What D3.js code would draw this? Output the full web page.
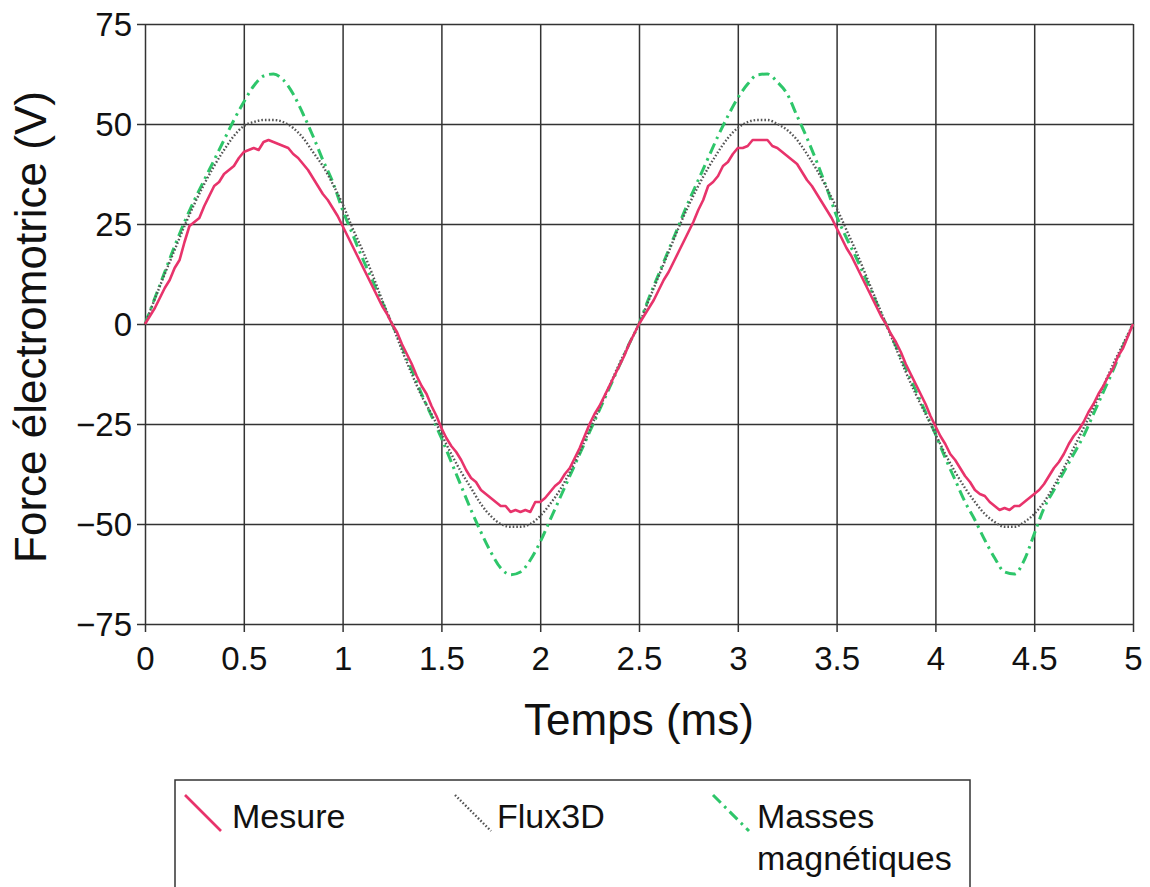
<!DOCTYPE html>
<html><head><meta charset="utf-8">
<script src="https://cdn.jsdelivr.net/npm/d3@7"></script>
<style>
body{margin:0;background:#fff}
svg{display:block}
text{font-family:"Liberation Sans",Arial,sans-serif;fill:#111}
</style>
</head><body>
<svg id="chart" width="1150" height="887"></svg>
<script>
// ---- DATA ----
const stepMesure = 0.025;   // ms between samples of the measured curve
const stepSim = 0.05;       // ms between samples of the simulated curves
const mesure = [
  0, 2, 4, 6.5, 9, 11, 14, 16, 20.5, 24.5, 25.5, 26.5, 29.5, 32, 34.5, 35.5, 37.5, 38.5, 39.5, 41.5, 43, 43.5, 44, 43.5, 45.5, 46,
  45.5, 45, 44.5, 44, 42.5, 41.5, 40, 38.5, 36.5, 34.5, 32.5, 31, 29, 27, 24.5, 22, 19.5, 17, 14.5, 12, 9.5, 7, 4.5, 2.5, 0,
  -2, -5, -7.5, -10, -13, -15.5, -17.5, -20.5, -23, -26, -28.5, -30.5, -32, -34, -36.5, -38.5, -39.5, -41.5, -42.5, -43.5,
  -44.5, -45.5, -45.5, -47, -46.5, -47, -46.5, -47, -44.5, -44.5, -43.5, -42, -40.5, -39.5, -37.5, -36, -33.5, -31, -28, -25,
  -22.5, -20.5, -18, -15.5, -13, -10.5, -8, -5, -2.5, 0,
  2, 4, 6, 8.5, 11, 13, 15.5, 18, 20.5, 23, 25.5, 28.5, 31, 34.5, 35.5, 37, 39.5, 40.5, 42.5, 44, 44, 44.5, 46, 46, 46,
  46, 44.5, 44, 43, 42, 41, 40, 38, 36, 34.5, 32.5, 30.5, 28.5, 26.5, 24, 21.5, 19, 17, 14.5, 12, 9.5, 7, 4.5, 2, 0,
  -2.5, -4.5, -7, -10, -12.5, -15, -17.5, -20, -23, -25.5, -28, -30, -32.5, -34, -36, -38, -39.5, -41.5, -42.5, -43,
  -44.5, -45.5, -46.5, -46, -46.5, -45.5, -45.5, -44.5, -43.5, -42.5, -41.5, -40, -38, -36, -34.5, -32.5, -30, -28, -26.5, -24.5,
  -22, -20, -17.5, -15.5, -13, -11, -8, -6, -3, 0
];
const flux3d = [
  0, 6.3, 12.5, 18.5, 24.5, 30, 35, 39.5, 43.5, 47, 49.5, 50.5, 51, 51, 50.5, 49, 46.5, 43, 39.5, 35, 30, 24, 18.5, 12.5, 6, 0,
  -6.5, -12.5, -18, -22.5, -27.5, -32.5, -37, -41, -45, -48, -50, -50.7, -50.7, -50, -48, -45, -41.5, -37, -32, -26.5, -21, -15.5, -10, -5, 0,
  6, 12, 18, 24, 29.5, 34.5, 39, 43, 46.5, 49, 50.5, 51, 51, 50, 48.5, 46, 42.5, 38.5, 34, 29, 23.5, 18, 12, 6, 0,
  -6, -12, -17.5, -22.5, -27.5, -32.5, -37, -41, -44.5, -47.5, -49.5, -50.7, -50.7, -49.5, -47.5, -44.5, -40.5, -36, -31, -26, -21, -15.5, -10, -5, 0
];
const masses = [
  0, 6.5, 13, 19.5, 25.5, 31, 36, 41, 46, 51, 55.5, 59.5, 62, 62.5, 61, 57.5, 52.5, 47, 41, 35.5, 28.5, 22.5, 16.5, 11, 5.5, 0,
  -5.5, -11.5, -17.5, -23, -28.5, -34.5, -40.5, -46.5, -52, -57, -61, -62.7, -62, -59, -54.5, -49, -43.5, -38, -32.5, -27, -21.5, -16, -10.5, -5, 0,
  6.5, 12.5, 18.5, 24.5, 30.5, 36, 41.5, 47, 52, 56.5, 60, 62.3, 62.5, 60.5, 57.5, 52, 46.5, 40.5, 34, 27, 21.5, 16.5, 11, 5.5, 0,
  -5.5, -11, -16.5, -22, -27.5, -33.5, -39, -44.5, -49, -54, -58.5, -62, -62.5, -59, -52.5, -46, -41.5, -37, -32.5, -28, -22.5, -17, -11.5, -5.5, 0
];
const xTicks = [0, 0.5, 1, 1.5, 2, 2.5, 3, 3.5, 4, 4.5, 5];
const yTicks = [-75, -50, -25, 0, 25, 50, 75];
const seriesNames = ["Mesure", "Flux3D", "Masses magnétiques"];
const xTitle = "Temps (ms)";
const yTitle = "Force électromotrice (V)";

// ---- CHART ----
const svg = d3.select("#chart");
const L = 145, R = 1133, T = 24, B = 624;
const x = d3.scaleLinear().domain([0, 5]).range([L, R]);
const y = d3.scaleLinear().domain([-75, 75]).range([B, T]);
const gridColor = "#333";

// grid
svg.append("g").attr("transform", `translate(0,${B})`)
  .call(d3.axisBottom(x).tickValues(xTicks).tickSize(-(B - T)).tickFormat(""))
  .call(g => g.select(".domain").remove())
  .call(g => g.selectAll("line").attr("stroke", gridColor).attr("stroke-width", 1.5));
svg.append("g").attr("transform", `translate(${L},0)`)
  .call(d3.axisLeft(y).tickValues(yTicks).tickSize(-(R - L)).tickFormat(""))
  .call(g => g.select(".domain").remove())
  .call(g => g.selectAll("line").attr("stroke", gridColor).attr("stroke-width", 1.5));

// axes with outward ticks and labels
svg.append("g").attr("transform", `translate(0,${B})`)
  .call(d3.axisBottom(x).tickValues(xTicks).tickSize(8).tickPadding(15).tickFormat(d3.format("")))
  .call(g => g.select(".domain").remove())
  .call(g => g.selectAll("line").attr("stroke", gridColor).attr("stroke-width", 1.5))
  .call(g => g.selectAll("text").attr("font-size", 33).attr("fill", "#111")
      .attr("font-family", "Liberation Sans, Arial, sans-serif"));
svg.append("g").attr("transform", `translate(${L},0)`)
  .call(d3.axisLeft(y).tickValues(yTicks).tickSize(8).tickPadding(5))
  .call(g => g.select(".domain").remove())
  .call(g => g.selectAll("line").attr("stroke", gridColor).attr("stroke-width", 1.5))
  .call(g => g.selectAll("text").attr("font-size", 33).attr("fill", "#111").attr("dy", "0.36em")
      .attr("font-family", "Liberation Sans, Arial, sans-serif"));

// titles
svg.append("text").attr("x", (L + R) / 2).attr("y", 735).attr("text-anchor", "middle")
  .attr("font-size", 44).text(xTitle);
svg.append("text").attr("transform", `translate(46,${(T + B) / 2 + 3}) rotate(-90)`)
  .attr("text-anchor", "middle").attr("font-size", 44).text(yTitle);

// series
const styles = [
  {color: "#e8336b", width: 2.6, dash: null},
  {color: "#555", width: 2.4, dash: "1.6,2"},
  {color: "#2ec66a", width: 3, dash: "11,5,2.5,5"}
];
const series = [
  {name: seriesNames[0], step: stepMesure, values: mesure, curve: d3.curveLinear, style: styles[0]},
  {name: seriesNames[1], step: stepSim, values: flux3d, curve: d3.curveMonotoneX, style: styles[1]},
  {name: seriesNames[2], step: stepSim, values: masses, curve: d3.curveMonotoneX, style: styles[2]}
];
const drawOrder = [2, 1, 0];
drawOrder.forEach(i => {
  const s = series[i];
  const pts = s.values.map((v, k) => [k * s.step, v]);
  const line = d3.line().x(d => x(d[0])).y(d => y(d[1])).curve(s.curve);
  svg.append("path").datum(pts).attr("d", line).attr("fill", "none")
    .attr("stroke", s.style.color).attr("stroke-width", s.style.width)
    .attr("stroke-dasharray", s.style.dash).attr("stroke-linejoin", "round");
});

// legend
const lg = svg.append("g");
lg.append("rect").attr("x", 175).attr("y", 780).attr("width", 795).attr("height", 130)
  .attr("fill", "none").attr("stroke", gridColor).attr("stroke-width", 1.5);
const legendX = [185, 455, 713];
const textX = [232, 497, 757];
series.forEach((s, i) => {
  lg.append("line").attr("x1", legendX[i]).attr("y1", 795).attr("x2", legendX[i] + 36).attr("y2", 831)
    .attr("stroke", s.style.color).attr("stroke-width", s.style.width).attr("stroke-dasharray", s.style.dash);
  const words = i === 2 ? ["Masses", "magnétiques"] : [s.name];
  words.forEach((w, j) => {
    lg.append("text").attr("x", textX[i]).attr("y", 828 + j * 42).attr("font-size", 34).text(w);
  });
});
</script>
</body></html>
